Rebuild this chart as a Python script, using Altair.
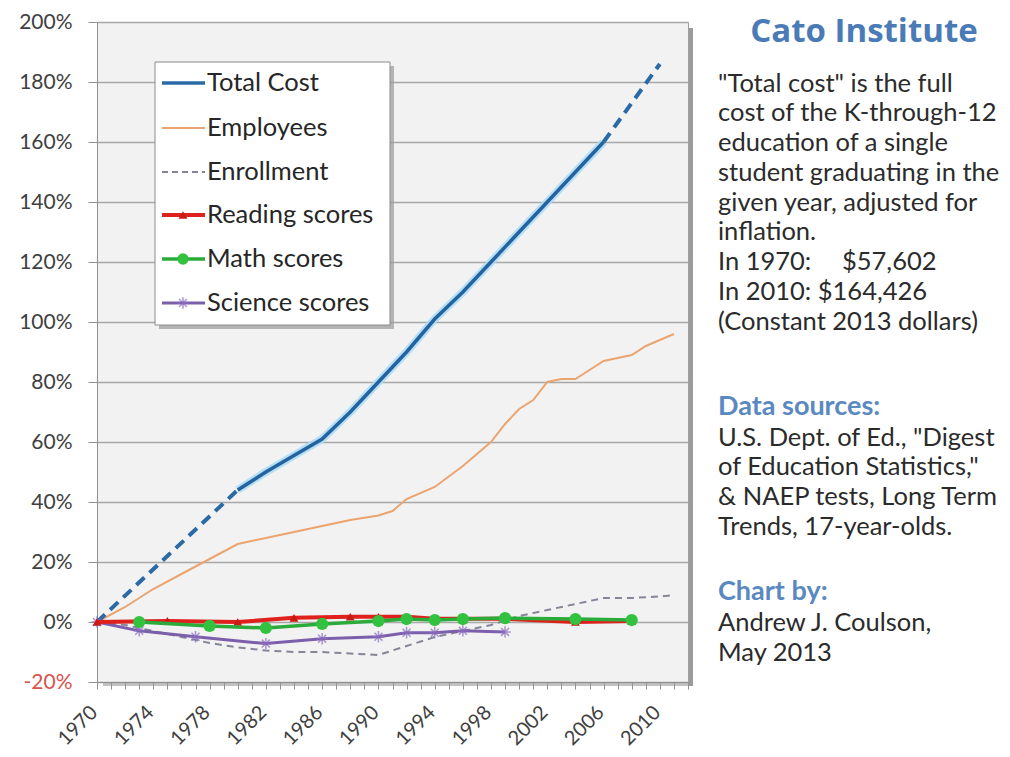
import altair as alt
import pandas as pd

# ---------------- data ----------------
tc_years = [1970, 1980, 1982, 1984, 1986, 1988, 1990, 1992, 1994, 1996, 1998, 2000, 2002, 2004, 2006, 2010]
tc_vals = [0, 44, 50, 55.5, 61, 70, 80, 90, 101, 110, 120, 130, 140, 150, 160, 186]

emp_years = [1970, 1972, 1974, 1976, 1978, 1980, 1982, 1984, 1986, 1988, 1990, 1991, 1992, 1994, 1996,
             1998, 1999, 2000, 2001, 2002, 2003, 2004, 2005, 2006, 2007, 2008, 2009, 2010, 2011]
emp_vals = [0, 5, 11, 16, 21, 26, 28, 30, 32, 34, 35.5, 37, 41, 45, 52,
            60, 66, 71, 74, 80, 81, 81, 84, 87, 88, 89, 92, 94, 96]

enr_years = [1970, 1972, 1974, 1976, 1978, 1980, 1982, 1984, 1986, 1988, 1990, 1992, 1994, 1996,
             1998, 2000, 2002, 2004, 2006, 2008, 2010, 2011]
enr_vals = [0, -1, -3, -5, -7, -8.5, -9.5, -10, -10, -10.5, -11, -8, -5, -3,
            -1, 2, 4, 6, 8, 8, 8.5, 9]

read_years = [1970, 1975, 1980, 1984, 1988, 1990, 1992, 1994, 1996, 1999, 2004, 2008]
read_vals = [0, 0.35, 0, 1.4, 1.75, 1.75, 1.75, 1.05, 1.05, 1.05, 0, 0.35]

math_years = [1973, 1978, 1982, 1986, 1990, 1992, 1994, 1996, 1999, 2004, 2008]
math_vals = [0, -1.3, -2.0, -0.66, 0.33, 0.99, 0.66, 0.99, 1.3, 0.99, 0.66]

sci_years = [1970, 1973, 1977, 1982, 1986, 1990, 1992, 1994, 1996, 1999]
sci_vals = [0, -2.95, -4.9, -7.2, -5.6, -4.9, -3.6, -3.6, -2.95, -3.3]

y_ticks = list(range(-20, 201, 20))
x_ticks = list(range(1970, 2013))

rows = []
for name, ys, vs in [("Total Cost", tc_years, tc_vals), ("Employees", emp_years, emp_vals),
                     ("Enrollment", enr_years, enr_vals), ("Reading scores", read_years, read_vals),
                     ("Math scores", math_years, math_vals), ("Science scores", sci_years, sci_vals)]:
    for yr, v in zip(ys, vs):
        rows.append({"series": name, "year": yr, "value": v})
df = pd.DataFrame(rows)

FONT = "Lato"
W, H = 591, 660

X = alt.X("year:Q", scale=alt.Scale(domain=[1970, 2012], nice=False, zero=False),
          axis=alt.Axis(values=x_ticks, format="d",
                        labelExpr="(datum.value - 1970) % 4 == 0 ? datum.label : ''",
                        labelAngle=-45, labelAlign="right", labelBaseline="middle",
                        labelOverlap=False, labelFlush=False, labelPadding=20,
                        labelOffset=-3,
                        labelFontSize=20, labelFont=FONT, labelColor="#404040",
                        grid=False, tickSize=7, tickColor="#909090", domainColor="#909090",
                        title=None))
Y = alt.Y("value:Q", scale=alt.Scale(domain=[-20, 200], nice=False, zero=False),
          axis=alt.Axis(values=y_ticks, labelExpr="datum.value + '%'",
                        labelFontSize=21, labelFont=FONT, labelPadding=16,
                        labelColor={"condition": {"test": "datum.value < 0", "value": "#d9534f"},
                                    "value": "#404040"},
                        grid=True, gridColor="#a8a8a8", gridWidth=1.5,
                        tickSize=9, tickColor="#909090", domainColor="#909090",
                        title=None))

base = alt.Chart(df)


def series(name):
    return base.transform_filter(alt.datum.series == name)


layers = []

# plot-area shadow (right and bottom)
one = alt.Data(values=[{"a": 1}])
layers.append(alt.Chart(one).mark_rect(color="#7a7a7a", opacity=0.75).encode(
    x=alt.value(W + 1), x2=alt.value(W + 5), y=alt.value(6), y2=alt.value(H + 4)))
layers.append(alt.Chart(one).mark_rect(color="#9a9a9a", opacity=0.6).encode(
    x=alt.value(6), x2=alt.value(W + 5), y=alt.value(H + 1), y2=alt.value(H + 4)))

# enrollment
layers.append(series("Enrollment").mark_line(color="#85859a", strokeWidth=2, strokeDash=[7, 5]).encode(x=X, y=Y))
# employees
layers.append(series("Employees").mark_line(color="#eba46f", strokeWidth=2).encode(x=X, y=Y))
# total cost: halo + line, dashed at both ends
tc = series("Total Cost")
layers.append(tc.transform_filter("datum.year >= 1980 && datum.year <= 2006")
              .mark_line(color="#a9dcf5", strokeWidth=8, opacity=0.85).encode(x=X, y=Y))
layers.append(tc.transform_filter("datum.year >= 1980 && datum.year <= 2006")
              .mark_line(color="#24639f", strokeWidth=3.5).encode(x=X, y=Y))
layers.append(tc.transform_filter("datum.year <= 1980")
              .mark_line(color="#2a6aa6", strokeWidth=4, strokeDash=[11, 7]).encode(x=X, y=Y))
layers.append(tc.transform_filter("datum.year >= 2006")
              .mark_line(color="#2a6aa6", strokeWidth=4, strokeDash=[11, 7]).encode(x=X, y=Y))

# science
STAR = "M-1,0L1,0M0,-1L0,1M-0.7,-0.7L0.7,0.7M-0.7,0.7L0.7,-0.7"
sci = series("Science scores")
layers.append(sci.mark_line(color="#7b5fab", strokeWidth=3).encode(x=X, y=Y))
layers.append(sci.mark_point(shape=STAR, filled=False, color="#8a6cc0", size=130, strokeWidth=1.5).encode(x=X, y=Y))
# reading
rd = series("Reading scores")
layers.append(rd.mark_line(color="#e0201c", strokeWidth=4).encode(x=X, y=Y))
layers.append(rd.mark_point(shape="triangle-up", filled=True, color="#c81a16", size=80, opacity=1).encode(x=X, y=Y))
# math
mt = series("Math scores")
layers.append(mt.mark_line(color="#2aab3a", strokeWidth=3.5).encode(x=X, y=Y))
layers.append(mt.mark_point(shape="circle", filled=True, color="#33c23f", size=150, opacity=1).encode(x=X, y=Y))

# ---------------- legend (manual) ----------------
LX0, LX1, LY0, LY1 = 58, 293, 40, 303
layers.append(alt.Chart(one).mark_rect(color="#9a9a9a", opacity=0.7).encode(
    x=alt.value(LX0 + 4), x2=alt.value(LX1 + 4), y=alt.value(LY0 + 4), y2=alt.value(LY1 + 4)))
layers.append(alt.Chart(one).mark_rect(fill="white", stroke="#8c8c8c", strokeWidth=1).encode(
    x=alt.value(LX0), x2=alt.value(LX1), y=alt.value(LY0), y2=alt.value(LY1)))

legend_names = ["Total Cost", "Employees", "Enrollment", "Reading scores", "Math scores", "Science scores"]
legend_y = [61, 106, 150, 193, 237, 281]
legend_style = {
    "Total Cost": dict(color="#2a6aa6", width=3.5, dash=None, shape=None),
    "Employees": dict(color="#eba46f", width=2, dash=None, shape=None),
    "Enrollment": dict(color="#85859a", width=2, dash=[6, 4], shape=None),
    "Reading scores": dict(color="#e0201c", width=4, dash=None, shape="triangle-up"),
    "Math scores": dict(color="#2aab3a", width=3.5, dash=None, shape="circle"),
    "Science scores": dict(color="#7b5fab", width=3, dash=None, shape=STAR),
}
for name, ly in zip(legend_names, legend_y):
    st = legend_style[name]
    kw = dict(color=st["color"], strokeWidth=st["width"])
    if st["dash"]:
        kw["strokeDash"] = st["dash"]
    layers.append(alt.Chart(one).mark_rule(**kw).encode(
        x=alt.value(65), x2=alt.value(108), y=alt.value(ly)))
    if st["shape"] == "triangle-up":
        layers.append(alt.Chart(one).mark_point(shape="triangle-up", filled=True, color="#c81a16", size=80, opacity=1)
                      .encode(x=alt.value(86), y=alt.value(ly)))
    elif st["shape"] == "circle":
        layers.append(alt.Chart(one).mark_point(shape="circle", filled=True, color="#33c23f", size=130, opacity=1)
                      .encode(x=alt.value(86), y=alt.value(ly)))
    elif st["shape"] == STAR:
        layers.append(alt.Chart(one).mark_point(shape=STAR, filled=False, color="#8a6cc0", size=130, strokeWidth=1.5)
                      .encode(x=alt.value(86), y=alt.value(ly)))
    layers.append(alt.Chart(one).mark_text(align="left", baseline="middle", font=FONT, fontSize=25.5,
                                           color="#262626").encode(
        x=alt.value(110), y=alt.value(ly), text=alt.value(name)))


# ---------------- right-hand text ----------------
def txt(s, x, y, size=25.5, color="#2b2b2b", weight="normal", align="left", font=FONT):
    return alt.Chart(one).mark_text(align=align, baseline="middle", font=font, fontSize=size,
                                    color=color, fontWeight=weight).encode(
        x=alt.value(x), y=alt.value(y), text=alt.value(s))


TX = 621
layers.append(txt("Cato Institute", 767, 10, size=33, color="#4a7bb7", weight="bold", align="center",
                  font="Open Sans"))
body = [
    ("\"Total cost\" is the full", 84),
    ("cost of the K-through-12", 113),
    ("education of a single", 143),
    ("student graduating in the", 173),
    ("given year, adjusted for", 203),
    ("inflation.", 232),
    ("In 2010: $164,426", 292),
    ("(Constant 2013 dollars)", 322),
    ("U.S. Dept. of Ed., \"Digest", 438),
    ("of Education Statistics,\"", 467),
    ("& NAEP tests, Long Term", 497),
    ("Trends, 17-year-olds.", 527),
    ("Andrew J. Coulson,", 623),
    ("May 2013", 653),
]
for s, y in body:
    layers.append(txt(s, TX, y - 22))
layers.append(txt("In 1970:", TX, 262 - 22))
layers.append(txt("$57,602", 745, 262 - 22))
layers.append(txt("Data sources:", TX, 407 - 22, size=27, color="#5a88c0", weight="bold"))
layers.append(txt("Chart by:", TX, 592 - 22, size=27, color="#5a88c0", weight="bold"))

chart = alt.layer(*layers).properties(
    width=W, height=H,
    autosize=alt.AutoSizeParams(type="none"),
    padding={"left": 89, "top": 14, "right": 314, "bottom": 67},
    background="white",
).configure_view(fill="#f2f2f2", stroke="#a0a0a0", strokeWidth=1)

chart.save("out.html", embed_options={"renderer": "svg", "actions": False})
